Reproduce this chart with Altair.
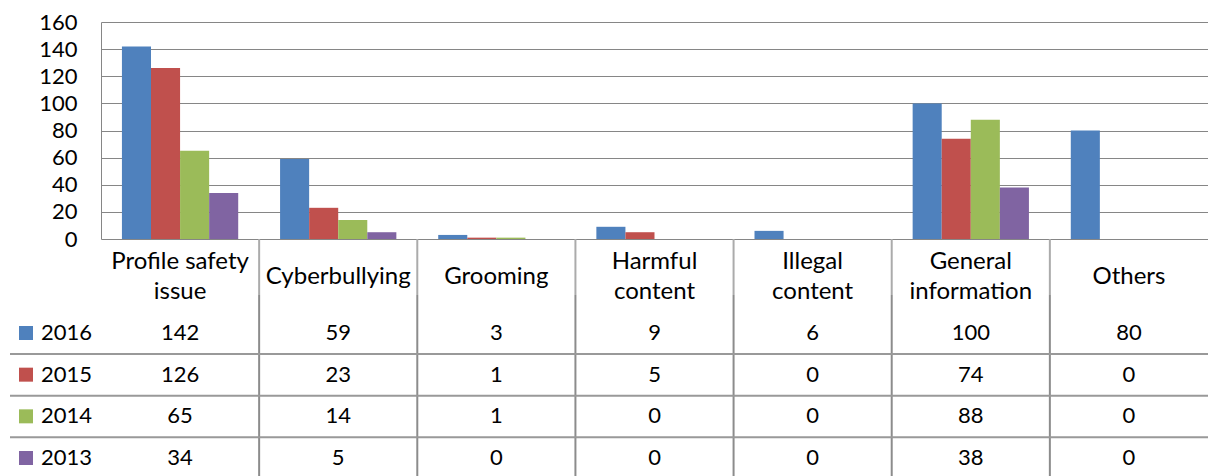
import altair as alt
import pandas as pd

categories = ["Profile safety issue", "Cyberbullying", "Grooming", "Harmful content",
              "Illegal content", "General information", "Others"]
header_labels = ["Profile safety\nissue", "Cyberbullying", "Grooming", "Harmful\ncontent",
                 "Illegal\ncontent", "General\ninformation", "Others"]
years = ["2016", "2015", "2014", "2013"]
v2016 = [142, 59, 3, 9, 6, 100, 80]
v2015 = [126, 23, 1, 5, 0, 74, 0]
v2014 = [65, 14, 1, 0, 0, 88, 0]
v2013 = [34, 5, 0, 0, 0, 38, 0]
colors = ["#4F81BD", "#C0504D", "#9BBB59", "#8064A2"]
y_ticks = [0, 20, 40, 60, 80, 100, 120, 140, 160]

series = {"2016": v2016, "2015": v2015, "2014": v2014, "2013": v2013}
rows = []
for yr in years:
    for c, v in zip(categories, series[yr]):
        rows.append({"Category": c, "Year": yr, "Value": v})
df = pd.DataFrame(rows)
hdr = pd.DataFrame({"Category": categories, "Label": header_labels})
hdr1 = hdr[~hdr["Label"].str.contains("\n")]
hdr2 = hdr[hdr["Label"].str.contains("\n")]
vlines = pd.DataFrame({"Category": categories[1:]})
hlines = pd.DataFrame({"Year": years[:3]})
yrs = pd.DataFrame({"Year": years})

FONT = "Lato"
FS = 22
HFS = 24
GRID = "#868686"

x_scale = alt.Scale(domain=categories, paddingInner=0, paddingOuter=0)
X = alt.X("Category:N", scale=x_scale, axis=None, sort=categories)
color = alt.Color("Year:N", scale=alt.Scale(domain=years, range=colors), legend=None)
row_y = alt.Y("Year:N", sort=years, axis=None,
              scale=alt.Scale(type="point", domain=years, range=[311, 436], padding=0))

bars = alt.Chart(df).mark_bar().encode(
    x=X,
    xOffset=alt.XOffset("Year:N", sort=years,
                        scale=alt.Scale(domain=years, paddingInner=0, paddingOuter=0.72)),
    y=alt.Y("Value:Q", scale=alt.Scale(domain=[0, 160], nice=False),
            axis=alt.Axis(values=y_ticks, grid=True, gridColor=GRID, gridWidth=1,
                          ticks=False, domainColor=GRID, domainWidth=1,
                          labelFont=FONT, labelFontSize=FS, labelColor="black",
                          labelPadding=24, title=None)),
    color=color,
)

text_style = dict(font=FONT, fontSize=HFS, lineBreak="\n", lineHeight=30,
                  baseline="middle", align="center", color="black")
header1 = alt.Chart(hdr1).mark_text(**text_style).encode(
    x=X, y=alt.value(255), text="Label:N")
header2 = alt.Chart(hdr2).mark_text(**text_style).encode(
    x=X, y=alt.value(240), text="Label:N")

vX = alt.X("Category:N", scale=x_scale, axis=None, sort=categories, bandPosition=0)
vrules_top = alt.Chart(vlines).mark_rule(color="#ababab", strokeWidth=2).encode(
    x=vX, y=alt.value(217), y2=alt.value(273))
vrules_bot = alt.Chart(vlines).mark_rule(color="#8c8c8c", strokeWidth=2).encode(
    x=vX, y=alt.value(273), y2=alt.value(454))

hrules = alt.Chart(hlines).mark_rule(color="#999999", strokeWidth=2, yOffset=21).encode(
    y=row_y, x=alt.value(-91), x2=alt.value(1107))

cells = alt.Chart(df).mark_text(font=FONT, fontSize=FS, baseline="middle",
                                align="center", color="black").encode(
    x=X, y=row_y, text="Value:Q")

squares = alt.Chart(yrs).mark_square(size=196, opacity=1).encode(
    x=alt.value(-75), y=row_y, color=color)

ylabels = alt.Chart(yrs).mark_text(font=FONT, fontSize=FS, baseline="middle",
                                   align="left", color="black").encode(
    x=alt.value(-60), y=row_y, text="Year:N")

chart = alt.layer(bars, header1, header2, vrules_top, vrules_bot, hrules, cells,
                  squares, ylabels).resolve_scale(
    y="independent"
).properties(
    width=1107, height=217,
    autosize=alt.AutoSizeParams(type="none"),
    padding={"left": 93, "top": 14, "right": 0, "bottom": 237},
    background="white",
).configure_view(stroke=None)

chart.save("out.html", embed_options={"renderer": "svg", "actions": False})
